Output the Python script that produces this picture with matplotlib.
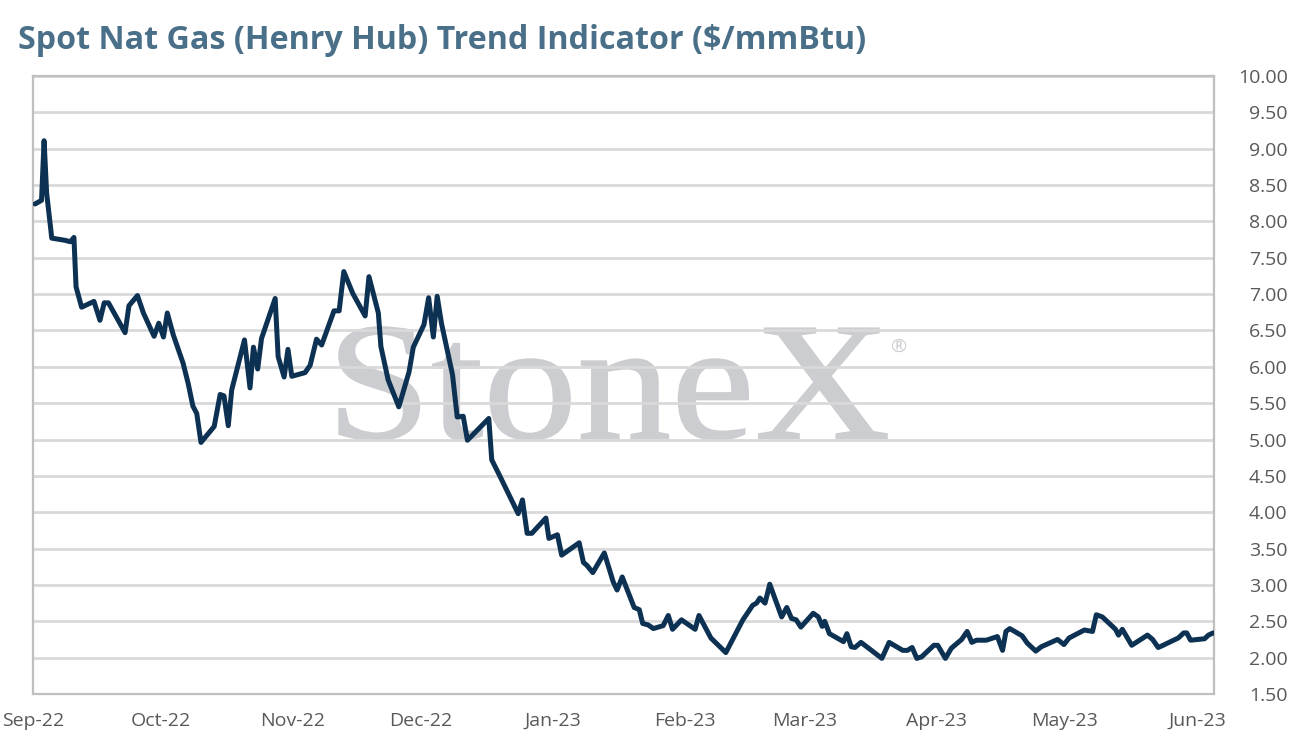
import matplotlib
matplotlib.use("Agg")
import matplotlib.pyplot as plt
import matplotlib.dates as mdates
import pandas as pd
from matplotlib.textpath import TextPath
from matplotlib.patches import PathPatch
from matplotlib.font_manager import FontProperties
from matplotlib.transforms import Affine2D

# ---- data: days after 2022-09-01 and spot price ($/mmBtu) ----
days = [0.5, 2.0, 2.6, 3.2, 4.4, 7.5, 8.8, 9.6, 10.1, 11.4,
        14.3, 15.7, 16.7, 17.7, 21.6, 22.5, 24.5, 25.9, 28.4, 29.5,
        30.6, 31.5, 32.9, 35.2, 36.4, 37.5, 38.4, 39.4, 42.5, 43.9,
        44.8, 45.8, 46.6, 49.6, 50.9, 51.7, 52.7, 53.6, 56.8, 57.5,
        58.9, 59.8, 60.7, 63.8, 65.0, 66.5, 67.7, 70.6, 71.8, 72.9,
        75.0, 77.9, 78.8, 81.0, 81.6, 83.3, 85.8, 88.2, 89.2, 91.7,
        92.8, 93.9, 94.8, 95.8, 98.4, 99.5, 100.9, 101.9, 106.9,
        107.6, 109.4, 113.8, 114.8, 115.9, 117.0, 120.3, 121.0, 123.0, 124.0,
        128.1, 129.1, 129.9, 131.3, 134.0, 136.1, 137.0, 138.2, 141.0, 142.2,
        143.0, 144.3, 145.5, 147.8, 149.0, 150.0, 152.1, 155.3, 156.2,
        159.0, 162.5, 164.8, 166.5, 168.8, 169.7, 170.5, 171.7, 172.8, 175.6,
        176.8, 177.9, 179.0, 180.1, 183.0, 184.2, 185.1, 185.7, 186.8, 190.1,
        190.9, 191.9, 192.8, 194.2, 199.1, 200.8, 204.0, 205.1, 206.2, 207.3,
        208.4, 211.3, 212.2, 214.0, 215.4, 217.8, 219.1, 220.2, 221.3, 223.6,
        226.2, 227.4, 228.2, 229.1, 232.0, 233.2, 235.2, 236.5, 240.3, 241.8,
        243.0, 246.6, 248.5, 249.4, 250.8, 253.9, 254.6, 255.5, 257.7, 261.4,
        262.6, 263.9, 264.7, 268.6, 269.9, 270.6, 271.5, 274.8, 275.7, 276.8]

price = [8.24, 8.29, 9.11, 8.39, 7.77, 7.74, 7.72, 7.78, 7.10, 6.82,
         6.90, 6.64, 6.88, 6.88, 6.47, 6.84, 6.98, 6.74, 6.42, 6.60,
         6.41, 6.74, 6.44, 6.05, 5.77, 5.46, 5.36, 4.96, 5.18, 5.62,
         5.60, 5.19, 5.68, 6.37, 5.71, 6.27, 5.97, 6.39, 6.94, 6.14,
         5.86, 6.24, 5.87, 5.92, 6.02, 6.38, 6.30, 6.77, 6.77, 7.31,
         7.01, 6.70, 7.24, 6.74, 6.28, 5.82, 5.45, 5.93, 6.27, 6.58,
         6.95, 6.41, 6.97, 6.60, 5.89, 5.31, 5.32, 4.99, 5.29,
         4.72, 4.51, 3.98, 4.17, 3.71, 3.71, 3.92, 3.64, 3.69, 3.41,
         3.58, 3.31, 3.27, 3.17, 3.44, 3.04, 2.93, 3.11, 2.69, 2.66,
         2.47, 2.45, 2.40, 2.44, 2.58, 2.39, 2.52, 2.39, 2.58,
         2.27, 2.07, 2.33, 2.52, 2.72, 2.75, 2.82, 2.75, 3.01, 2.56,
         2.69, 2.54, 2.52, 2.42, 2.61, 2.56, 2.43, 2.50, 2.33, 2.22,
         2.33, 2.15, 2.14, 2.21, 1.99, 2.21, 2.10, 2.10, 2.14, 1.99,
         2.01, 2.17, 2.17, 1.99, 2.13, 2.25, 2.36, 2.21, 2.24, 2.24,
         2.29, 2.10, 2.36, 2.40, 2.30, 2.20, 2.09, 2.15, 2.25, 2.18,
         2.27, 2.38, 2.36, 2.59, 2.56, 2.39, 2.31, 2.39, 2.17, 2.31,
         2.25, 2.14, 2.16, 2.27, 2.34, 2.34, 2.24, 2.26, 2.31, 2.34]

start = pd.Timestamp("2022-09-01")
end = start + pd.Timedelta(days=277)
dates = start + pd.to_timedelta(days, unit="D")

title = "Spot Nat Gas (Henry Hub) Trend Indicator ($/mmBtu)"
y_ticks = [1.5 + 0.5 * i for i in range(18)]

# ---- figure ----
plt.rcParams["font.family"] = ["Open Sans", "DejaVu Sans"]
fig = plt.figure(figsize=(12.92, 7.54), dpi=100)
ax = fig.add_axes([33 / 1292, 1 - 694 / 754, 1181 / 1292, 618 / 754])

ax.plot(dates, price, color="#0c3152", lw=3.6, solid_joinstyle="round",
        solid_capstyle="round", zorder=3)

ax.set_xlim(start, end)
ax.set_ylim(1.5, 10.0)
ax.set_yticks(y_ticks)
ax.yaxis.set_major_formatter(matplotlib.ticker.FormatStrFormatter("%.2f"))
ax.yaxis.tick_right()
ax.xaxis.set_major_locator(mdates.MonthLocator())
ax.xaxis.set_major_formatter(mdates.DateFormatter("%b-%y"))

ax.set_axisbelow(True)
ax.grid(axis="y", color="#d9d9d9", lw=2)
for s in ax.spines.values():
    s.set_color("#bfbfbf")
    s.set_linewidth(1.6)
ax.tick_params(axis="both", length=0, labelsize=14, colors="#595959")
ax.tick_params(axis="y", pad=53)
ax.tick_params(axis="x", pad=13)
for lab in ax.get_yticklabels():
    lab.set_horizontalalignment("right")

# ---- StoneX watermark behind the grid ----
tp = TextPath((0, 0), "StoneX", size=100,
              prop=FontProperties(family="Liberation Serif"))
bb = tp.get_extents()
x0, x1 = (339 - 33) / 1181, (887 - 33) / 1181
y0, y1 = (694 - 440) / 618, (694 - 327) / 618
tr = Affine2D().translate(-bb.x0, -bb.y0).scale(
    (x1 - x0) / bb.width, (y1 - y0) / bb.height).translate(x0, y0)
ax.add_patch(PathPatch(tr.transform_path(tp), transform=ax.transAxes,
                       facecolor="#cccdd0", edgecolor="#cccdd0", lw=1.2,
                       zorder=0.1))
ax.text((891 - 33) / 1181, (694 - 356) / 618, "®", transform=ax.transAxes,
        fontsize=14, color="#cccdd0", ha="left", va="bottom", zorder=0.1)

fig.text(18 / 1292, 1 - 49 / 754, title, fontsize=23.2, fontweight="bold",
         color="#4a6f88", ha="left", va="baseline")

fig.savefig("out.png", dpi=100)
